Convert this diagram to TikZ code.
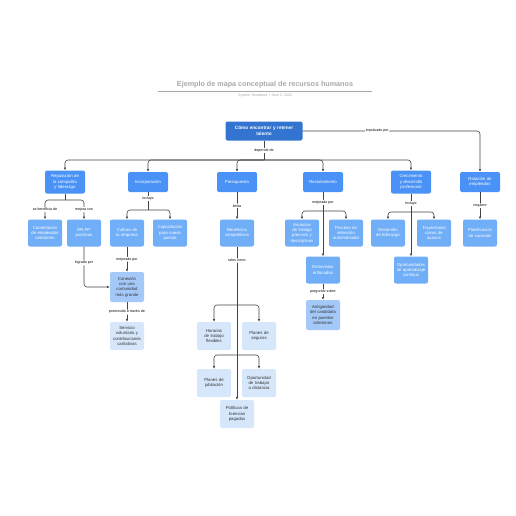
\documentclass[tikz,border=0pt]{standalone}
\usepackage{fontspec}
\setmainfont{Liberation Sans}
\usetikzlibrary{arrows.meta}
\hyphenpenalty=10000
\exhyphenpenalty=10000

\definecolor{azulraiz}{HTML}{3374D0}
\definecolor{azuluno}{HTML}{4A92F5}
\definecolor{azuldos}{HTML}{70AEF7}
\definecolor{azultres}{HTML}{A4C9F8}
\definecolor{azulcuatro}{HTML}{D6E6FB}
\definecolor{gristitulo}{HTML}{A8A8A8}
\definecolor{grislinea}{HTML}{444444}

\begin{document}
\begin{tikzpicture}[
		x=1pt, y=-1pt,
		% Style des blocs
		caja/.style={
			fill=#1,
			draw=none,
			rounded corners=2pt,
			text=white,
			font=\fontsize{4.3}{5.4}\selectfont,
			align=center,
			inner sep=1.5pt,
		},
		nivelcero/.style={caja=azulraiz, minimum width=77pt, minimum height=19pt, inner xsep=0pt, text width=77pt, font=\fontsize{4.7}{6}\selectfont\bfseries},
		niveluno/.style={caja=azuluno, minimum width=40pt, minimum height=20pt, text width=33pt},
		niveldos/.style={caja=azuldos, minimum width=34pt, minimum height=27pt, text width=29pt},
		niveltres/.style={caja=azultres, text=black!80, minimum width=34pt, minimum height=30pt, text width=29pt},
		nivelcuatro/.style={caja=azulcuatro, text=black!80, minimum width=34pt, minimum height=28pt, text width=29pt},
		% Style des flèches
		conector/.style={
			->,
			>={Latex[length=2.6pt,width=2.4pt]},
			line width=0.6pt,
			grislinea,
			rounded corners=3pt
		},
		% Style des étiquettes
		etiqueta/.style={
			font=\fontsize{3.6}{4.2}\selectfont,
			text=black,
			fill=white,
			inner sep=0.8pt
		}
		]
		\useasboundingbox (0,0) rectangle (516,516);
		
		% --- TITRE ---
		\node[font=\fontsize{7.2}{8}\selectfont\bfseries, text=gristitulo] (titulo) at (265,85) {Ejemplo de mapa conceptual de recursos humanos};
		\draw[gristitulo, line width=0.5pt] (158,91) -- (372,91);
		\node[font=\fontsize{3.6}{4}\selectfont, text=gristitulo] (subtitulo) at (265,96) {System Templates \,|\, April 3, 2025};
		
		% --- BLOCS ---
		\node[nivelcero] (raiz) at (264,131) {Cómo encontrar y retener\\talento};
		
		\node[niveluno, minimum height=23pt] (rep) at (65,182) {Reputación de la compañía y liderazgo};
		\node[niveluno] (inc) at (148,182) {Incorporación};
		\node[niveluno] (pre) at (237,182) {Presupuesto};
		\node[niveluno] (rec) at (323,182) {Reclutamiento};
		\node[niveluno, minimum height=23pt] (cre) at (411,182) {Crecimiento y desarrollo profesional};
		\node[niveluno] (rot) at (480,182) {Rotación de empleados};
		
		\node[niveldos] (com) at (45,233) {Comentarios de empleados anteriores};
		\node[niveldos] (rrpp) at (84,233) {RR.PP. positivas};
		\node[niveldos] (cul) at (127,233) {Cultura de la empresa};
		\node[niveldos] (cap) at (170,233) {Capacitación para nuevo puesto};
		\node[niveldos] (ben) at (237,233) {Beneficios competitivos};
		\node[niveldos] (anu) at (302,233) {Anuncios de trabajo precisos y descriptivos};
		\node[niveldos] (pro) at (346,233) {Proceso de selección automatizado};
		\node[niveldos] (ent) at (323,270) {Entrevistas enfocadas};
		\node[niveldos] (des) at (388,233) {Desarrollo de liderazgo};
		\node[niveldos] (tra) at (434,233) {Trayectorias claras de avance};
		\node[niveldos] (opo) at (411,270) {Oportunidades de aprendizaje continuo};
		\node[niveldos] (pla) at (480,233) {Planificación de sucesión};
		
		\node[niveltres] (con) at (127,287) {Conexión con una comunidad más grande};
		\node[niveltres] (ant) at (323,315) {Antigüedad del candidato en puestos anteriores};
		
		\node[nivelcuatro] (ser) at (127,336) {Servicio voluntario y contribuciones caritativas};
		\node[nivelcuatro] (hor) at (214,336) {Horarios de trabajo flexibles};
		\node[nivelcuatro] (seg) at (259,336) {Planes de seguros};
		\node[nivelcuatro] (jub) at (214,383) {Planes de jubilación};
		\node[nivelcuatro] (dis) at (259,383) {Oportunidad de trabajar a distancia};
		\node[nivelcuatro] (pol) at (237,414) {Políticas de licencias pagadas};
		
		% --- COORDONNÉES DE JONCTION ---
		\coordinate (jraiz) at (264,160);
		\coordinate (jrep) at (65,200);
		\coordinate (jinc) at (148,210);
		\coordinate (jrec) at (323,211);
		\coordinate (jcre) at (411,212);
		\coordinate (jben1) at (237,305);
		\coordinate (jben2) at (237,355);
		
		% --- FLÈCHES ---
		
		% Raiz -> niveau 1
		\draw[conector, -] (raiz) -- node[etiqueta] {depende de} (jraiz);
		\foreach \hijo in {rep, inc, pre, rec, cre}
		\draw[conector] (jraiz) -| (\hijo.north);
		\draw[conector] (raiz.east) -| node[pos=0.21, etiqueta] {impulsado por} (rot.north);
		
		% Reputación
		\draw[conector, -] (rep) -- (jrep);
		\draw[conector] (jrep) -| node[pos=0.75, etiqueta] {se beneficia de} (com.north);
		\draw[conector] (jrep) -| node[pos=0.75, etiqueta] {mejora con} (rrpp.north);
		
		% Incorporación
		\draw[conector, -] (inc) -- node[pos=0.35, etiqueta] {Incluye} (jinc);
		\draw[conector] (jinc) -| (cul.north);
		\draw[conector] (jinc) -| (cap.north);
		
		% Presupuesto
		\draw[conector] (pre) -- node[etiqueta] {limita} (ben);
		
		% Reclutamiento
		\draw[conector] (rec) -- node[pos=0.16, etiqueta] {mejorado por} (ent);
		\draw[conector] (jrec) -| (anu.north);
		\draw[conector] (jrec) -| (pro.north);
		
		% Crecimiento
		\draw[conector] (cre) -- node[pos=0.16, etiqueta] {Incluye} (opo);
		\draw[conector] (jcre) -| (des.north);
		\draw[conector] (jcre) -| (tra.north);
		
		% Rotación
		\draw[conector] (rot) -- node[etiqueta] {requiere} (pla);
		
		% Cultura y RR.PP.
		\draw[conector] (cul) -- node[etiqueta] {mejorado por} (con);
		\draw[conector] (rrpp.south) |- node[pos=0.2, etiqueta] {logrado por} (con.west);
		\draw[conector] (con) -- node[etiqueta] {promovido a través de} (ser);
		
		% Entrevistas
		\draw[conector] (ent) -- node[etiqueta] {preguntar sobre} (ant);
		
		% Beneficios
		\draw[conector] (ben) -- node[pos=0.09, etiqueta] {tales como} (pol);
		\draw[conector] (jben1) -| (hor.north);
		\draw[conector] (jben1) -| (seg.north);
		\draw[conector] (jben2) -| (jub.north);
		\draw[conector] (jben2) -| (dis.north);
		
	\end{tikzpicture}
\end{document}
